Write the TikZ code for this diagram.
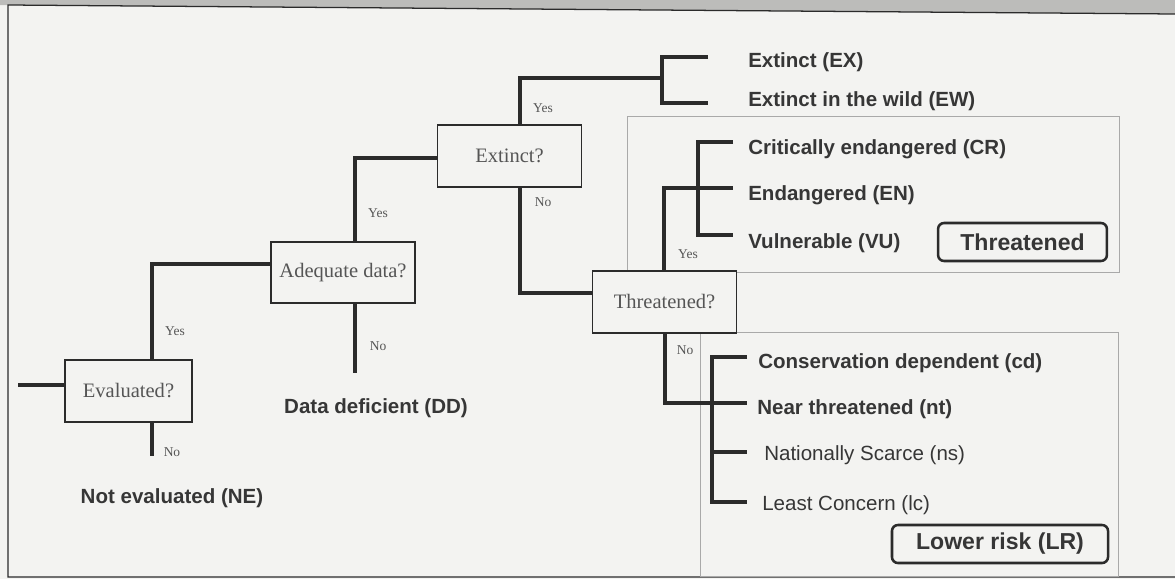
\documentclass[tikz,border=0pt]{standalone}
\usepackage{fontspec}
\setmainfont{Liberation Serif}
\setsansfont{Liberation Sans}
\definecolor{pagebg}{HTML}{F3F3F1}
\definecolor{band}{HTML}{BCBCBA}
\definecolor{ink}{HTML}{2B2B2B}
\definecolor{boxtext}{HTML}{555555}
\definecolor{labeltext}{HTML}{363636}
\definecolor{framegray}{HTML}{A9A9A9}
\begin{document}
\begin{tikzpicture}[x=0.025cm,y=-0.025cm]
\tikzstyle{every node}+=[inner sep=0pt]
\tikzstyle{question}=[draw=ink, line width=1.3pt, fill=pagebg, minimum width=3.6cm, minimum height=1.53cm, text=boxtext, font=\fontsize{14.6}{16}\selectfont]
\tikzstyle{tree}=[draw=ink, line width=2.2pt]
\tikzstyle{yesno}=[text=boxtext, font=\fontsize{9.6}{11}\selectfont]
\tikzstyle{outcome}=[anchor=west, text=labeltext, font=\sffamily\bfseries\fontsize{14.6}{16}\selectfont]
\tikzstyle{minor}=[anchor=west, text=labeltext, font=\sffamily\fontsize{14.6}{16}\selectfont]
\tikzstyle{group}=[draw=framegray, line width=0.6pt]
\tikzstyle{tag}=[draw=ink, line width=1.8pt, rounded corners=0.15cm, minimum height=0.95cm, text=labeltext, font=\sffamily\bfseries\fontsize{16.4}{18}\selectfont]
\useasboundingbox (0,0) rectangle (1175,579);
\fill[pagebg] (0,0) rectangle (1175,579);
\fill[band] (0,0) -- (1175,0) -- (1175,14) -- (8,5) -- (0,5) -- cycle;
\draw[ink, line width=0.9pt] (1175,14) -- (8,5) -- (8,577) -- (1175,577);
\draw[group] (627,116) rectangle (1119,272);
\draw[group] (700,332) rectangle (1118,576);

\node[question, minimum width=3.18cm] (eval) at (128.5,391) {Evaluated?};
\node[question] (adequate) at (343,272.5) {Adequate data?};
\node[question] (extinct) at (509.5,156) {Extinct?};
\node[question] (threat) at (664.5,302) {Threatened?};

\node[outcome, anchor=center] (ne) at (172,498) {Not evaluated (NE)};
\node[outcome, anchor=center] (dd) at (376,408) {Data deficient (DD)};
\node[outcome] (ex) at (748,62) {Extinct (EX)};
\node[outcome] (ew) at (748,101) {Extinct in the wild (EW)};
\node[outcome] (cr) at (748,149) {Critically endangered (CR)};
\node[outcome] (en) at (748,195) {Endangered (EN)};
\node[outcome] (vu) at (748,243) {Vulnerable (VU)};
\node[outcome] (cd) at (758,363) {Conservation dependent (cd)};
\node[outcome] (nt) at (757,409) {Near threatened (nt)};
\node[minor] (ns) at (764,455) {Nationally Scarce (ns)};
\node[minor] (lc) at (762,505) {Least Concern (lc)};
\node[tag, minimum width=4.22cm] (threatened) at (1022.5,242) {Threatened};
\node[tag, minimum width=5.4cm] (lowerrisk) at (1000,544) {Lower risk (LR)};

\coordinate (start) at (18,385);
\coordinate (evyes) at (152,264);
\coordinate (evno) at (152,456);
\coordinate (adyes) at (355,158);
\coordinate (adno) at (355,373);
\coordinate (exyes) at (520,293);
\coordinate (exfork) at (662,78);
\coordinate (exend) at (708,57);
\coordinate (ewend) at (708,103);
\coordinate (thyes) at (664,188);
\coordinate (thfork) at (698,188);
\coordinate (crend) at (733,142);
\coordinate (enend) at (733,188);
\coordinate (vuend) at (733,235);
\coordinate (thno) at (665,403);
\coordinate (lrfork) at (712,403);
\coordinate (cdend) at (747,357);
\coordinate (ntend) at (747,403);
\coordinate (nsend) at (747,452);
\coordinate (lcend) at (747,502);

\draw[tree] (start) -- (start -| eval.west);
\draw[tree] (eval.north -| evyes) |- (adequate.west |- evyes);
\draw[tree] (eval.south -| evyes) -- (evno);
\draw[tree] (adequate.north -| adyes) |- (extinct.west |- adyes);
\draw[tree] (adequate.south -| adyes) -- (adno);
\draw[tree] (extinct.north -| exyes) |- (exfork);
\draw[tree] (extinct.south -| exyes) |- (threat.west |- exyes);
\draw[tree] (exend) -| (exfork) |- (ewend);
\draw[tree] (threat.north -| thyes) |- (enend);
\draw[tree] (crend) -| (thfork) |- (vuend);
\draw[tree] (threat.south -| thno) |- (ntend);
\draw[tree] (cdend) -| (lrfork) |- (lcend);
\draw[tree] (lrfork |- nsend) -- (nsend);

\node[yesno] (evyeslabel) at (175,331) {Yes};
\node[yesno] (evnolabel) at (172,452) {No};
\node[yesno] (adyeslabel) at (378,213) {Yes};
\node[yesno] (adnolabel) at (378,346) {No};
\node[yesno] (exyeslabel) at (543,108) {Yes};
\node[yesno] (exnolabel) at (543,202) {No};
\node[yesno] (thyeslabel) at (688,254) {Yes};
\node[yesno] (thnolabel) at (685,350) {No};
\end{tikzpicture}
\end{document}
